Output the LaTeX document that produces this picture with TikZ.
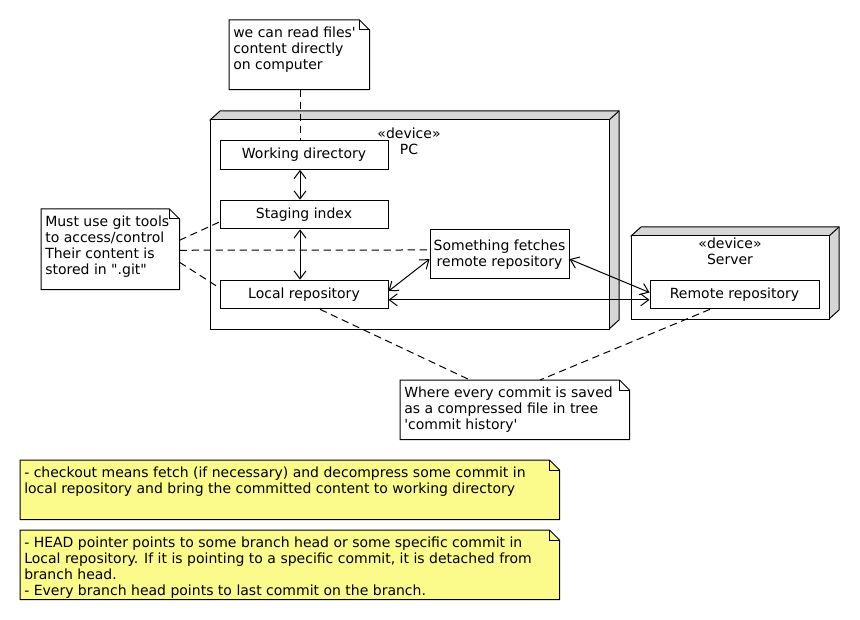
\documentclass[tikz,border=0pt]{standalone}
\usepackage{fontspec}
\setmainfont{DejaVu Sans}[Ligatures=TeXOff]
\usepackage{xcolor}
\usetikzlibrary{positioning, calc, arrows.meta}

\tikzset{
    comp/.style={draw, fill=white, line width=0.75pt, minimum width=126pt, minimum height=21.5pt, inner sep=0pt},
    notearea/.style={anchor=north west, inner sep=0pt},
    notetext/.style={anchor=north west, align=left, inner xsep=3pt, inner ysep=5pt},
    link/.style={line width=0.75pt, {Straight Barb[length=6pt,width=9pt]}-{Straight Barb[length=6pt,width=9pt]}},
    anchorline/.style={line width=0.75pt, dash pattern=on 5.5pt off 3.5pt},
}

% note outline with folded corner
\newcommand{\drawnote}[2]{%
    \draw[line width=0.75pt, fill=#2] (#1.north west) -- ([xshift=-7.5pt]#1.north east) -- ([yshift=-7.5pt]#1.north east) -- (#1.south east) -- (#1.south west) -- cycle;
    \draw[line width=0.75pt] ([xshift=-7.5pt]#1.north east) |- ([yshift=-7.5pt]#1.north east);
}

% device box with 3D sides
\newcommand{\drawdevice}[4]{%
    \draw[line width=0.75pt, fill=devgray] (#1,#2) -- ($(#1,#2)+(10,-9)$) -- ($(#3,#2)+(10,-9)$) -- ($(#3,#4)+(10,-9)$) -- (#3,#4) -- cycle;
    \draw[line width=0.75pt, fill=white] (#1,#2) rectangle (#3,#4);
    \draw[line width=0.75pt] (#3,#2) -- ($(#3,#2)+(10,-9)$);
}

\begin{document}
\begin{tikzpicture}[x=0.75pt, y=-0.75pt, font=\fontsize{10.5}{12}\selectfont]
    % Colours
    \definecolor{devgray}{RGB}{214, 214, 214}
    \definecolor{noteyellow}{RGB}{251, 251, 140}

    \useasboundingbox (0,0) rectangle (860,620);

    % 1. Devices (PC and Server)
    \drawdevice{210}{120}{609}{329}
    \node[align=center] (pclabel) at (409,141) {«device»\\PC};
    \drawdevice{631}{236}{829}{319}
    \node[align=center] (srvlabel) at (730,251) {«device»\\Server};

    % 2. Components inside the devices
    \node[comp] (wd) at (304,155) {Working directory};
    \node[comp] (stg) at (304,214.5) {Staging index};
    \node[comp] (loc) at (304,294.5) {Local repository};
    \node[comp, minimum width=104.25pt, minimum height=36.75pt, align=center] (fetch) at (499.5,254.5) {Something fetches\\remote repository};
    \node[comp, minimum width=126.75pt] (remote) at (734.5,294.5) {Remote repository};

    % 3. Notes (area first, then outline, then text)
    \node[notearea, minimum width=105pt, minimum height=51.75pt] (topnote) at (229,20) {};
    \drawnote{topnote}{white}
    \node[notetext] at (topnote.north west) {we can read files'\\content directly\\on computer};

    \node[notearea, minimum width=103.5pt, minimum height=60pt] (gitnote) at (41,209) {};
    \drawnote{gitnote}{white}
    \node[notetext] at (gitnote.north west) {Must use git tools\\to access/control\\Their content is\\stored in ".git"};

    \node[notearea, minimum width=171.75pt, minimum height=44.25pt] (histnote) at (400,380) {};
    \drawnote{histnote}{white}
    \node[notetext] at (histnote.north west) {Where every commit is saved\\as a compressed file in tree\\'commit history'};

    \node[notearea, minimum width=404.25pt, minimum height=44.25pt] (checknote) at (20,460) {};
    \drawnote{checknote}{noteyellow}
    \node[notetext] at (checknote.north west) {- checkout means fetch (if necessary) and decompress some commit in\\local repository and bring the committed content to working directory};

    \node[notearea, minimum width=404.25pt, minimum height=51.75pt] (headnote) at (20,530) {};
    \drawnote{headnote}{noteyellow}
    \node[notetext] at (headnote.north west) {- HEAD pointer points to some branch head or some specific commit in\\Local repository. If it is pointing to a specific commit, it is detached from\\branch head.\\- Every branch head points to last commit on the branch.};

    % 4. Arrows between components
    \draw[link] ([xshift=-3pt]wd.south) -- ([xshift=-3pt]stg.north);
    \draw[link] ([xshift=-3pt]stg.south) -- ([xshift=-3pt]loc.north);
    \draw[link] ([yshift=2.5pt]loc.east) -- ([yshift=-3.5pt]fetch.west);
    \draw[link] ([yshift=-3.5pt]fetch.east) -- ([yshift=1.5pt]remote.west);
    \draw[link] ([yshift=-4pt]loc.east) -- ([yshift=-4pt]remote.west);

    % 5. Dashed lines from the notes
    \draw[anchorline] ([xshift=53.25pt]topnote.south west) -- ([xshift=-3pt]wd.north);
    \draw[anchorline] ([yshift=6.75pt]gitnote.east) -- ([yshift=-5.6pt]stg.west);
    \draw[anchorline] ([yshift=-0.75pt]gitnote.east) -- ([yshift=3.4pt]fetch.west);
    \draw[anchorline] ([yshift=-9.75pt]gitnote.east) -- ([yshift=4.9pt]loc.west);
    \draw[anchorline] ([xshift=12pt]loc.south) -- ([xshift=52.5pt]histnote.north west);
    \draw[anchorline] ([xshift=-18.4pt]remote.south) -- ([xshift=105pt]histnote.north west);
\end{tikzpicture}
\end{document}
